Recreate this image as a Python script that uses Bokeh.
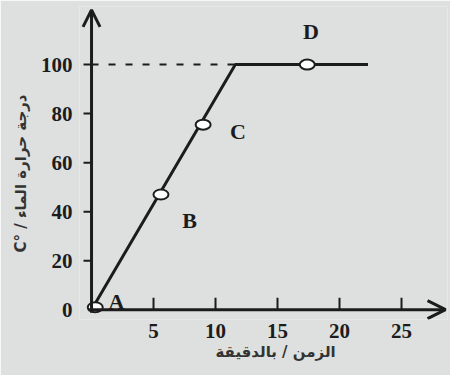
import numpy as np
from bokeh.plotting import figure
from bokeh.models import Range1d, FixedTicker, Arrow, OpenHead, Label, ColumnDataSource, Title
from bokeh.embed import file_html
from bokeh.resources import INLINE

# data
line_time = [0, 11.6, 22.3]
line_temp = [0, 100, 100]
point_names = ["A", "B", "C", "D"]
point_time = [0.3, 5.6, 9.0, 17.4]
point_temp = [1, 47, 75.5, 100]
label_time = [2.0, 7.9, 11.8, 17.7]
label_temp = [3.5, 36.5, 72.5, 113.5]
boil_temp = 100
x_ticks = [5, 10, 15, 20, 25]
y_ticks = [0, 20, 40, 60, 80, 100]
x_title = "الزمن / بالدقيقة"
y_title = "C° / درجة حرارة الماء"
x_axis_end = 28.55
y_axis_end = 122.3

BG = "#dde0de"
INK = "#1c1c1c"

p = figure(width=450, height=375, output_backend="svg", toolbar_location=None,
           x_range=Range1d(-0.97, 28.71), y_range=Range1d(-4, 123.7),
           min_border_left=79, min_border_right=3, min_border_top=6, min_border_bottom=56)
p.background_fill_color = BG
p.border_fill_color = BG
p.outline_line_color = None
p.grid.visible = False

for ax in (p.xaxis[0], p.yaxis[0]):
    ax.axis_line_color = None
    ax.major_tick_line_color = None
    ax.major_tick_in = 0
    ax.major_tick_out = 0
    ax.minor_tick_line_color = None
    ax.major_label_text_font = "Liberation Serif"
    ax.major_label_text_font_style = "bold"
    ax.major_label_text_font_size = "21px"
    ax.major_label_text_color = INK

p.xaxis.ticker = FixedTicker(ticks=x_ticks)
p.yaxis.ticker = FixedTicker(ticks=y_ticks)
p.xaxis.major_label_standoff = 4
p.yaxis.major_label_standoff = 7

# axis titles, placed as side titles so they can be offset like the original
p.add_layout(Title(text=x_title, align="left", offset=136, standoff=1,
                   text_font="DejaVu Sans", text_font_style="bold", text_font_size="15px",
                   text_color="#333333"), "below")
p.add_layout(Title(text=y_title, align="left", offset=67, standoff=15,
                   text_font="DejaVu Sans", text_font_style="bold", text_font_size="15px",
                   text_color="#333333"), "left")

# tick marks (inward on time axis, outward on temperature axis)
p.ray(x=x_ticks, y=[0] * len(x_ticks), length=12, angle=np.pi / 2, length_units="screen",
      line_color=INK, line_width=2)
p.ray(x=[0] * (len(y_ticks) - 1), y=y_ticks[1:], length=8, angle=np.pi, length_units="screen",
      line_color=INK, line_width=2)

# axis lines with arrow heads
p.add_layout(Arrow(x_start=0, y_start=-1.2, x_end=0, y_end=y_axis_end, line_width=3, line_color=INK,
                   end=OpenHead(size=17, line_width=3, line_color=INK)))
p.add_layout(Arrow(x_start=-0.25, y_start=0, x_end=x_axis_end, y_end=0, line_width=3, line_color=INK,
                   end=OpenHead(size=18, line_width=3, line_color=INK)))

# dashed boiling line
p.line([0, line_time[1]], [boil_temp, boil_temp], line_color=INK, line_width=2, line_dash="7 10")

# heating curve
p.line(line_time, line_temp, line_color=INK, line_width=3)

src = ColumnDataSource(dict(x=point_time, y=point_temp))
p.ellipse(x="x", y="y", width=15, height=10, width_units="screen", height_units="screen",
          source=src, fill_color="white", line_color=INK, line_width=2)

for name, lx, ly in zip(point_names, label_time, label_temp):
    p.add_layout(Label(x=lx, y=ly, text=name, text_font="Liberation Serif", text_font_style="bold",
                       text_font_size="22px", text_color=INK, text_align="center",
                       text_baseline="middle"))

open("out.html", "w").write(file_html(p, INLINE))
